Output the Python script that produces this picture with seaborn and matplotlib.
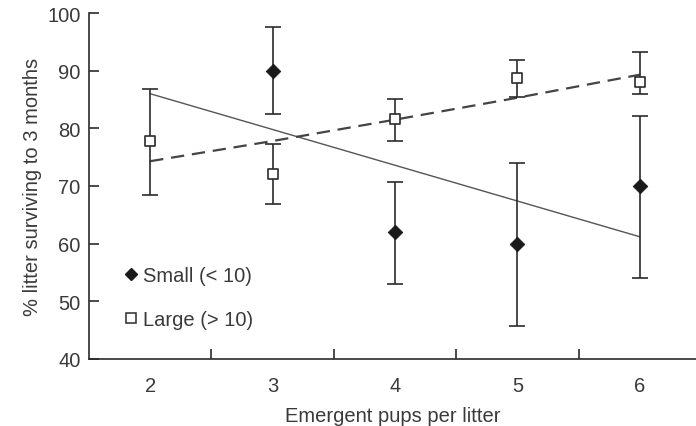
import numpy as np
import pandas as pd
import matplotlib
matplotlib.use("Agg")
import matplotlib.pyplot as plt
import seaborn as sns
from matplotlib.lines import Line2D

# data
pups = [2, 3, 4, 5, 6]

small_x = [3, 4, 5, 6]
small_mean = [90.0, 62.0, 60.0, 70.0]
small_low = [82.5, 53.0, 45.8, 54.0]
small_high = [97.5, 70.7, 74.0, 82.2]

large_x = [2, 3, 4, 5, 6]
large_mean = [77.8, 72.0, 81.7, 88.7, 88.1]
large_low = [68.4, 66.9, 77.8, 85.5, 86.0]
large_high = [86.9, 77.3, 85.1, 91.9, 93.3]

small_fit_x = [2, 6]
small_fit_y = [86.0, 61.2]
large_fit_x = [2, 3, 4, 5, 6]
large_fit_y = [74.3, 77.8, 81.5, 85.3, 89.3]

sns.set_style("ticks")
plt.rcParams['font.family'] = ['Liberation Sans', 'DejaVu Sans']
ink = '#2b2b2b'
txt = '#3a3a3a'
fs = 14.5

fig = plt.figure(figsize=(6.96, 4.27), dpi=100)
ax = fig.add_axes([89 / 696, 67 / 427, 607 / 696, 346 / 427])

# fitted lines
fit_s = pd.DataFrame({'x': small_fit_x, 'y': small_fit_y})
fit_l = pd.DataFrame({'x': large_fit_x, 'y': large_fit_y})
sns.lineplot(data=fit_s, x='x', y='y', ax=ax, color='#555555', lw=1.0, zorder=2)
sns.lineplot(data=fit_l, x='x', y='y', ax=ax, color='#444444', lw=1.6,
             linestyle=(0, (6, 3.5)), zorder=2)

# error bars
sm = np.array(small_mean)
lg = np.array(large_mean)
ax.errorbar(small_x, sm, yerr=[sm - np.array(small_low), np.array(small_high) - sm],
            fmt='none', ecolor=ink, elinewidth=1.2, capsize=6, capthick=1.2, zorder=3)
ax.errorbar(large_x, lg, yerr=[lg - np.array(large_low), np.array(large_high) - lg],
            fmt='none', ecolor=ink, elinewidth=1.2, capsize=6, capthick=1.2, zorder=3)

# points
sns.scatterplot(x=small_x, y=small_mean, ax=ax, marker='D', s=55, color='#1a1a1a',
                edgecolor='#1a1a1a', zorder=4)
sns.scatterplot(x=large_x, y=large_mean, ax=ax, marker='s', s=60, color='white',
                edgecolor=ink, linewidth=1.2, zorder=4)

ax.set_xlim(1.5, 6.46)
ax.set_ylim(40, 100)
ax.set_yticks([40, 50, 60, 70, 80, 90, 100])
ax.set_xticks(pups)
ax.set_xticks([2.5, 3.5, 4.5, 5.5], minor=True)
ax.tick_params(axis='x', which='major', length=0, pad=12, labelsize=fs, labelcolor=txt)
ax.tick_params(axis='x', which='minor', direction='in', length=7, width=1.2, color=ink)
ax.tick_params(axis='y', direction='in', length=7, width=1.2, color=ink,
               labelsize=fs, labelcolor=txt, pad=6)

for side in ['top', 'right']:
    ax.spines[side].set_visible(False)
for side in ['left', 'bottom']:
    ax.spines[side].set_color(ink)
    ax.spines[side].set_linewidth(1.2)

ax.set_xlabel('Emergent pups per litter', fontsize=fs, color=txt, labelpad=8)
ax.set_ylabel('% litter surviving to 3 months', fontsize=fs, color=txt, labelpad=4)

handles = [
    Line2D([], [], marker='D', linestyle='none', color='#1a1a1a', markersize=6),
    Line2D([], [], marker='s', linestyle='none', markerfacecolor='white',
           markeredgecolor=ink, markersize=7, markeredgewidth=1.1),
]
leg = ax.legend(handles, ['Small (< 10)', 'Large (> 10)'], loc='lower left',
                bbox_to_anchor=(0.03, 0.035), frameon=False, fontsize=fs,
                handlelength=0.6, handletextpad=0.3, labelspacing=1.25)
for t in leg.get_texts():
    t.set_color(txt)

fig.savefig('out.png', dpi=100)
